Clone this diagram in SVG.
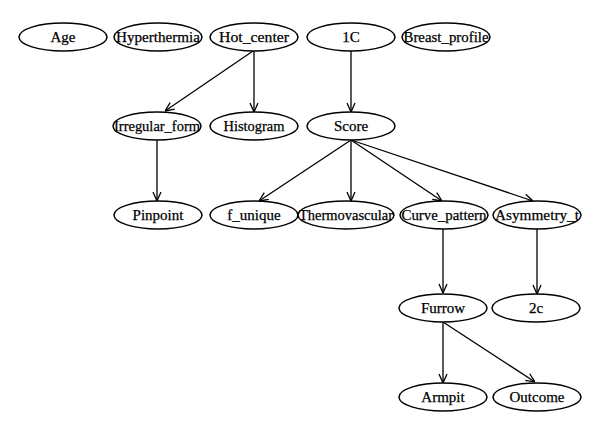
<svg xmlns="http://www.w3.org/2000/svg" width="600" height="434" viewBox="0 0 600 434">
<defs>
<marker id="arr" viewBox="0 0 10 10" refX="10" refY="5" markerWidth="10" markerHeight="10" markerUnits="userSpaceOnUse" orient="auto">
<path d="M1,1 L10,5 L1,9" fill="none" stroke="#000" stroke-width="1.3"/>
</marker>
<style>
ellipse{fill:#fff;stroke:#000;stroke-width:1.5}
text{font-family:"Liberation Serif","DejaVu Serif",serif;font-size:15px;fill:#000;stroke:#000;stroke-width:0.25;text-anchor:middle;dominant-baseline:central}
.e line{stroke:#000;stroke-width:1.3;marker-end:url(#arr)}
</style>
</defs>
<rect width="600" height="434" fill="#fff"/>
<g class="e" id="edges">
<line x1="253" y1="51" x2="165" y2="111"/>
<line x1="254" y1="51" x2="254" y2="112"/>
<line x1="351" y1="51" x2="351" y2="112"/>
<line x1="157" y1="140" x2="157" y2="201"/>
<line x1="351" y1="140" x2="259" y2="201"/>
<line x1="351" y1="140" x2="351" y2="201"/>
<line x1="351" y1="140" x2="442" y2="201"/>
<line x1="351" y1="140" x2="533" y2="201"/>
<line x1="443" y1="229" x2="443" y2="293"/>
<line x1="537" y1="229" x2="537" y2="294"/>
<line x1="443" y1="322" x2="443" y2="383"/>
<line x1="443" y1="322" x2="535" y2="382"/>
</g>
<g id="Age"><ellipse cx="63" cy="37" rx="44" ry="14"/><text x="63" y="37">Age</text></g>
<g id="Hyperthermia"><ellipse cx="158" cy="37" rx="44" ry="14"/><text x="158" y="37" textLength="84" lengthAdjust="spacingAndGlyphs">Hyperthermia</text></g>
<g id="Hot_center"><ellipse cx="254" cy="37" rx="44" ry="14"/><text x="254" y="37" textLength="70" lengthAdjust="spacingAndGlyphs">Hot_center</text></g>
<g id="n1C"><ellipse cx="351" cy="37" rx="44" ry="14"/><text x="351" y="37">1C</text></g>
<g id="Breast_profile"><ellipse cx="446" cy="37" rx="44" ry="14"/><text x="446" y="37" textLength="85" lengthAdjust="spacingAndGlyphs">Breast_profile</text></g>
<g id="Irregular_form"><ellipse cx="157" cy="126" rx="44" ry="14"/><text x="157" y="126" textLength="86" lengthAdjust="spacingAndGlyphs">Irregular_form</text></g>
<g id="Histogram"><ellipse cx="254" cy="126" rx="44" ry="14"/><text x="254" y="126" textLength="61" lengthAdjust="spacingAndGlyphs">Histogram</text></g>
<g id="Score"><ellipse cx="351" cy="126" rx="44" ry="14"/><text x="351" y="126">Score</text></g>
<g id="Pinpoint"><ellipse cx="158" cy="215" rx="44" ry="14"/><text x="158" y="215">Pinpoint</text></g>
<g id="f_unique"><ellipse cx="254" cy="215" rx="44" ry="14"/><text x="254" y="215">f_unique</text></g>
<g id="Thermovascular"><ellipse cx="346" cy="215" rx="48" ry="14"/><text x="346" y="215" textLength="94" lengthAdjust="spacingAndGlyphs">Thermovascular</text></g>
<g id="Curve_pattern"><ellipse cx="444" cy="215" rx="44" ry="14"/><text x="444" y="215" textLength="85" lengthAdjust="spacingAndGlyphs">Curve_pattern</text></g>
<g id="Asymmetry_t"><ellipse cx="537" cy="215" rx="44" ry="14"/><text x="537" y="215" textLength="84" lengthAdjust="spacingAndGlyphs">Asymmetry_t</text></g>
<g id="Furrow"><ellipse cx="443" cy="308" rx="44" ry="14"/><text x="443" y="308">Furrow</text></g>
<g id="n2c"><ellipse cx="536" cy="308" rx="44" ry="14"/><text x="536" y="308">2c</text></g>
<g id="Armpit"><ellipse cx="443" cy="397" rx="44" ry="14"/><text x="443" y="397">Armpit</text></g>
<g id="Outcome"><ellipse cx="537" cy="397" rx="44" ry="14"/><text x="537" y="397">Outcome</text></g>
</svg>
